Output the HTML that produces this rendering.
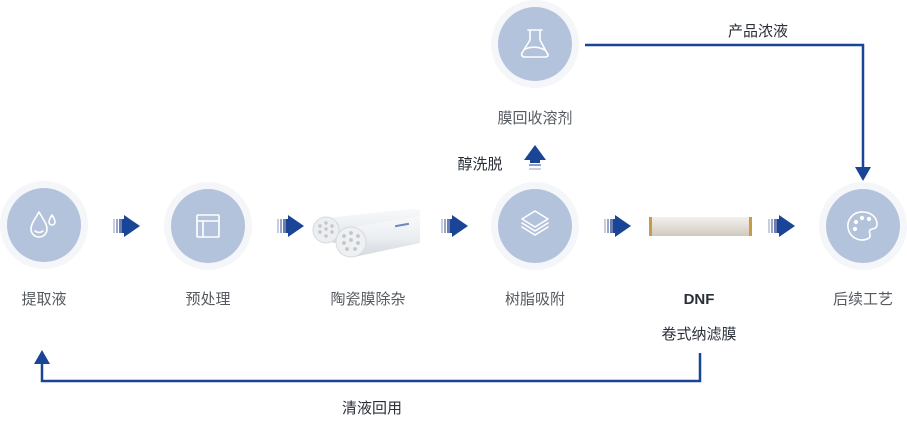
<!DOCTYPE html>
<html><head><meta charset="utf-8"><style>
html,body{margin:0;padding:0;background:#fff;}
svg text{font-family:"Liberation Sans","Noto Sans CJK SC",sans-serif;}
</style></head><body>
<svg width="907" height="416" viewBox="0 0 907 416" xmlns="http://www.w3.org/2000/svg">
<defs>
<g id="arr">
<rect x="0" y="4" width="2" height="14" fill="#c8cde0"/>
<rect x="3" y="4" width="2" height="14" fill="#9aa6c8"/>
<rect x="6" y="4" width="3" height="14" fill="#6d7db0"/>
<rect x="9" y="4" width="4" height="14" fill="#1a4496"/>
<polygon points="11,0 27,11 11,22" fill="#1a4496"/>
</g>
<linearGradient id="tube" x1="0" y1="0" x2="0" y2="1"><stop offset="0" stop-color="#f8f9fa"/><stop offset="0.5" stop-color="#eceff2"/><stop offset="1" stop-color="#d3d9de"/></linearGradient>
<linearGradient id="dnf" x1="0" y1="0" x2="0" y2="1"><stop offset="0" stop-color="#f2f0ec"/><stop offset="0.5" stop-color="#e2ded6"/><stop offset="1" stop-color="#cfcac0"/></linearGradient>
</defs>

<g>
<circle cx="44" cy="225" r="44" fill="#f4f6f9"/><circle cx="44" cy="225" r="37" fill="#b4c3dc"/>
<circle cx="208" cy="226" r="44" fill="#f4f6f9"/><circle cx="208" cy="226" r="37" fill="#b4c3dc"/>
<circle cx="535" cy="226" r="44" fill="#f4f6f9"/><circle cx="535" cy="226" r="37" fill="#b4c3dc"/>
<circle cx="863" cy="226" r="44" fill="#f4f6f9"/><circle cx="863" cy="226" r="37" fill="#b4c3dc"/>
<circle cx="535" cy="44" r="44" fill="#f4f6f9"/><circle cx="535" cy="44" r="37" fill="#b4c3dc"/>
</g>

<g fill="none" stroke="#fff" stroke-width="1.6" stroke-linecap="round" stroke-linejoin="round">
<path d="M39,212 C35,219 31,224 31,229 A8,8 0 0 0 47,229 C47,224 43,219 39,212 Z"/>
<path d="M35,231 Q39,234 43,231"/>
<path d="M52,215 C50,218 49,220 49,222 A3,3 0 0 0 55,222 C55,220 54,218 52,215 Z"/>
<rect x="197" y="215" width="22" height="22" rx="1"/>
<line x1="197" y1="221" x2="219" y2="221"/><line x1="203" y1="221" x2="203" y2="237"/>
<polygon points="535,211 548,219 535,227 522,219"/>
<path d="M522,223 L535,231 L548,223"/><path d="M522,227 L535,235 L548,227"/>
<path d="M863,212 A14,14 0 1 0 869,238 C872,236 868,232 870,230 C872,228 877,230 877,224 A14,12 0 0 0 863,212 Z"/>
<circle cx="856" cy="222" r="1.3" fill="#fff"/><circle cx="862" cy="218" r="1.3" fill="#fff"/><circle cx="869" cy="219" r="1.3" fill="#fff"/><circle cx="855" cy="229" r="1.3" fill="#fff"/>
<path d="M530,30 L530,40 L522,53 C521,55 522,57 525,57 L545,57 C548,57 549,55 547,53 L540,40 L540,30 M528,30 L542,30 M525,49 Q535,45 545,50"/>
</g>

<use href="#arr" x="113" y="215"/>
<use href="#arr" x="277" y="215"/>
<use href="#arr" x="441" y="215"/>
<use href="#arr" x="604" y="215"/>
<use href="#arr" x="768" y="215"/>

<polygon points="318,219 410,209 420,210 420,232 333,243" fill="url(#tube)"/>
<circle cx="326" cy="230" r="13" fill="#eceef0" stroke="#d5dadf"/>
<polygon points="342,229 420,216 420,243 354,257" fill="url(#tube)"/>
<circle cx="351" cy="242" r="15" fill="#eef0f2" stroke="#d5dadf"/>
<g fill="#c2c6cb">
<circle cx="320" cy="226" r="1.7"/><circle cx="326" cy="223" r="1.7"/><circle cx="332" cy="226" r="1.7"/><circle cx="320" cy="232" r="1.7"/><circle cx="326" cy="229" r="1.7"/><circle cx="332" cy="232" r="1.7"/><circle cx="326" cy="236" r="1.7"/>
<circle cx="344" cy="236" r="1.9"/><circle cx="351" cy="233" r="1.9"/><circle cx="358" cy="236" r="1.9"/><circle cx="344" cy="243" r="1.9"/><circle cx="351" cy="240" r="1.9"/><circle cx="358" cy="243" r="1.9"/><circle cx="347" cy="249" r="1.9"/><circle cx="355" cy="249" r="1.9"/>
</g>
<rect x="395" y="224" width="14" height="2" fill="#6f86c0" transform="rotate(-10 402 225)"/>

<rect x="650" y="217" width="101" height="19" rx="2" fill="url(#dnf)"/>
<rect x="649" y="217" width="3" height="19" fill="#c89a4a"/>
<rect x="749" y="217" width="3" height="19" fill="#c89a4a"/>

<polyline points="585,45 863,45 863,168" fill="none" stroke="#1a4496" stroke-width="2.5"/>
<polygon points="855,167 871,167 863,181" fill="#1a4496"/>
<polyline points="700,353 700,381 42,381 42,362" fill="none" stroke="#1a4496" stroke-width="2.5"/>
<polygon points="34,364 50,364 42,350" fill="#1a4496"/>
<polygon points="524,160 535,145 546,160" fill="#1a4496"/>
<rect x="530" y="160" width="10" height="3" fill="#1a4496"/>
<rect x="529" y="164" width="12" height="2" fill="#8f9cc4"/>
<rect x="529" y="168" width="12" height="2" fill="#c8cde0"/>

<g font-size="15" fill="#555a60" text-anchor="middle">
<text x="44" y="304">提取液</text>
<text x="208" y="304">预处理</text>
<text x="368" y="304">陶瓷膜除杂</text>
<text x="535" y="304">树脂吸附</text>
<text x="863" y="304">后续工艺</text>
<text x="535" y="123">膜回收溶剂</text>
</g>
<g font-size="15" fill="#2a2f38" text-anchor="middle">
<text x="699" y="304" font-weight="bold">DNF</text>
<text x="699" y="339">卷式纳滤膜</text>
<text x="758" y="36">产品浓液</text>
<text x="480" y="169">醇洗脱</text>
<text x="372" y="413">清液回用</text>
</g>
</svg>
</body></html>
